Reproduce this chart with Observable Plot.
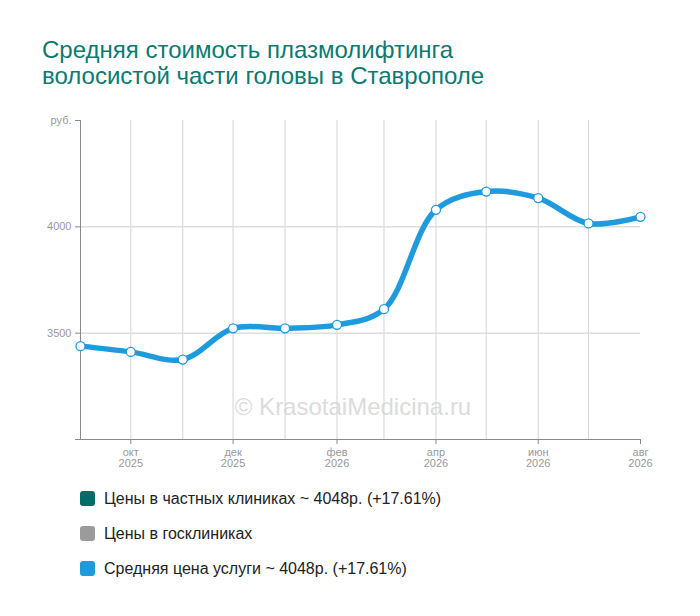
<!DOCTYPE html>
<html>
<head>
<meta charset="utf-8">
<script src="https://cdn.jsdelivr.net/npm/d3@7"></script>
<script src="https://cdn.jsdelivr.net/npm/@observablehq/plot@0.6"></script>
<style>
  html, body { margin: 0; padding: 0; background: #fff; }
  body { position: relative; width: 700px; height: 616px; font-family: "Liberation Sans", Arial, sans-serif; overflow: hidden; }
  #title { position: absolute; left: 42px; top: 37px; font-size: 24px; line-height: 26px; color: #0b7a70; }
  #chart { position: absolute; left: 0; top: 100px; }
  #legend { position: absolute; left: 80px; top: 481px; }
  .item { display: flex; align-items: center; height: 35px; font-size: 16px; color: #222; }
  .sw { width: 15px; height: 15px; border-radius: 3px; margin-right: 9px; }
  #wm { position: absolute; left: 0; width: 706px; text-align: center; top: 393px; font-size: 24px; color: #dcdcdc; }
</style>
</head>
<body>
<div id="title">Средняя стоимость плазмолифтинга<br>волосистой части головы в Ставрополе</div>
<div id="wm">© KrasotaiMedicina.ru</div>
<div id="chart"></div>
<div id="legend"></div>
<script>
const months = ["2025-09","2025-10","2025-11","2025-12","2026-01","2026-02","2026-03","2026-04","2026-05","2026-06","2026-07","2026-08"];
const avgPrice = [3439, 3412, 3376, 3523, 3523, 3539, 3613, 4080, 4166, 4135, 4016, 4047];
const monthNames = ["янв","фев","мар","апр","май","июн","июл","авг","сен","окт","ноя","дек"];
const labelMonths = ["2025-10","2025-12","2026-02","2026-04","2026-06","2026-08"];
const yTicks = [3000, 3500, 4000, 4500];
const legendItems = [
  {label: "Цены в частных клиниках ~ 4048р. (+17.61%)", color: "#006e66"},
  {label: "Цены в госклиниках", color: "#9b9b9b"},
  {label: "Средняя цена услуги ~ 4048р. (+17.61%)", color: "#1e9bdc"}
];

const parse = s => new Date(s + "-01T00:00:00Z");
const data = months.map((m, i) => ({date: parse(m), value: avgPrice[i]}));
const gridDates = months.slice(1, -1).map(parse);
const labelDates = labelMonths.map(parse);

const chart = Plot.plot({
  width: 700,
  height: 374,
  marginLeft: 80,
  marginRight: 60,
  marginTop: 20,
  marginBottom: 35,
  style: {fontFamily: "Liberation Sans, Arial, sans-serif", fontSize: "11px", color: "#999", background: "transparent"},
  x: {type: "utc", domain: [parse(months[0]), parse(months[months.length - 1])]},
  y: {domain: [3000, 4500]},
  marks: [
    Plot.ruleX(gridDates, {stroke: "#d4d4d4", strokeWidth: 1}),
    Plot.ruleY([3500, 4000], {stroke: "#dedede", strokeWidth: 1.5}),
    Plot.ruleY([3000], {stroke: "#8a8a8a", strokeWidth: 1}),
    Plot.ruleX([parse(months[0])], {stroke: "#8a8a8a", strokeWidth: 1}),
    Plot.axisX({
      ticks: labelDates,
      tickSize: 5,
      tickPadding: 4,
      stroke: "#8a8a8a",
      fill: "#999",
      lineHeight: 1.0,
      tickFormat: d => monthNames[d.getUTCMonth()] + "\n" + d.getUTCFullYear(),
      label: null
    }),
    Plot.axisY({
      ticks: yTicks,
      tickSize: 5,
      tickPadding: 4,
      stroke: "#8a8a8a",
      fill: "#999",
      tickFormat: d => d === 4500 ? "руб." : d === 3000 ? "" : String(d),
      label: null
    }),
    Plot.line(data, {x: "date", y: "value", stroke: "#1e9bdc", strokeWidth: 5.5, curve: "catmull-rom", strokeLinecap: "round"}),
    Plot.dot(data, {x: "date", y: "value", r: 4.5, fill: "#fff", stroke: "#1e9bdc", strokeWidth: 1.3})
  ]
});
document.getElementById("chart").appendChild(chart);

const legend = document.getElementById("legend");
for (const it of legendItems) {
  const row = document.createElement("div");
  row.className = "item";
  const sw = document.createElement("div");
  sw.className = "sw";
  sw.style.background = it.color;
  const tx = document.createElement("span");
  tx.textContent = it.label;
  row.appendChild(sw);
  row.appendChild(tx);
  legend.appendChild(row);
}
</script>
</body>
</html>
